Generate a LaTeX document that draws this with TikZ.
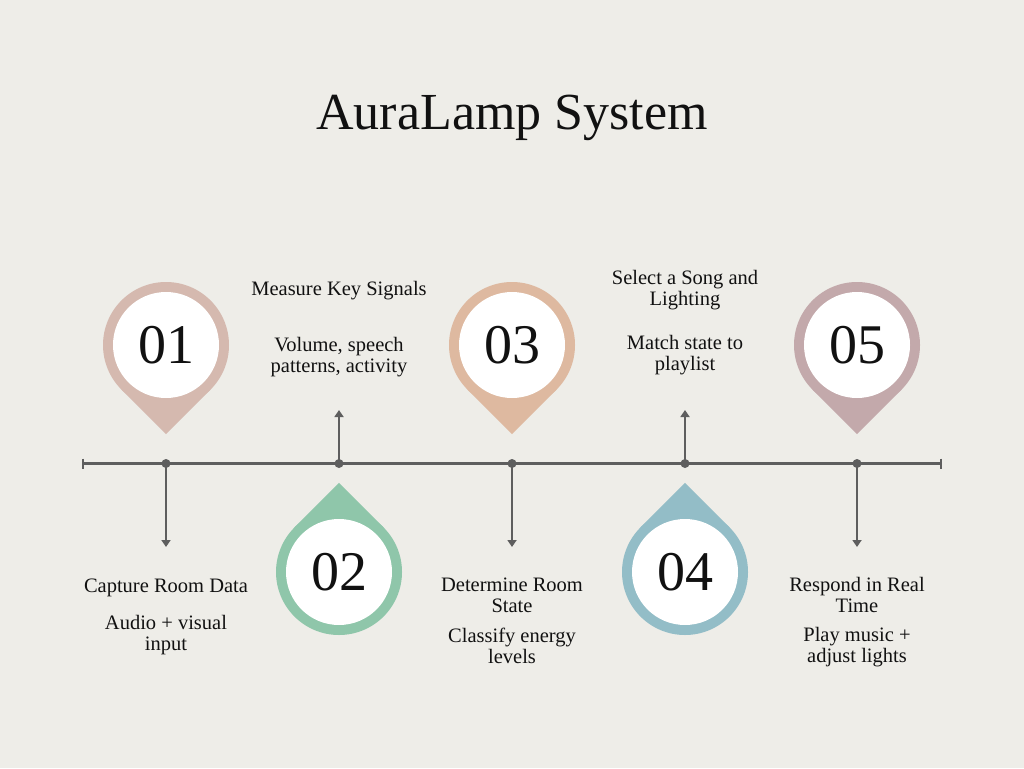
\documentclass[tikz,border=0pt]{standalone}
\usepackage{fontspec}
\setmainfont{Liberation Serif}
\usetikzlibrary{arrows.meta,calc}
\definecolor{bg}{HTML}{EEEDE8}
\definecolor{ink}{HTML}{111111}
\definecolor{linegray}{HTML}{5E5E5E}
\definecolor{pinA}{HTML}{D5B9AF}
\definecolor{pinB}{HTML}{8FC6AA}
\definecolor{pinC}{HTML}{DEB9A0}
\definecolor{pinD}{HTML}{93BDC7}
\definecolor{pinE}{HTML}{C3A9AB}
\newcommand\droppin[6]{%
  \fill[#5] (#2,#3) circle[radius=63];
  \fill[#5] (#2,#3) -- ++(44.55,#4) -- ++(-44.55,#4) -- ++(-44.55,{-(#4)}) -- cycle;
  \node[numcirc] (#1) at (#2,#3) {#6};
}
\begin{document}
\begin{tikzpicture}[x=1pt,y=-1pt,
  numcirc/.style={circle,fill=white,minimum size=106pt,inner sep=0pt,text=ink,font=\fontsize{56}{56}\selectfont},
  lbl/.style={align=flush center,text width=220pt,anchor=base,text=ink,font=\fontsize{20.5}{21}\selectfont,inner sep=0pt},
  tline/.style={draw=linegray,line width=2.4pt},
  conn/.style={draw=linegray,line width=2pt,-{Triangle[length=7pt,width=9pt]}},
  dotc/.style={fill=linegray}]
\fill[bg] (0,0) rectangle (1024,768);
\useasboundingbox (0,0) rectangle (1024,768);
% title
\node[anchor=base,text=ink,font=\fontsize{52}{52}\selectfont,inner sep=0pt] (title) at (512,129) {AuraLamp System};
% timeline
\coordinate (tl) at (83,463.5);
\coordinate (tr) at (941,463.5);
\draw[tline] (tl) -- (tr);
\draw[tline] (83,458.5) -- (83,468.5);
\draw[tline] (941,458.5) -- (941,468.5);
\foreach \n/\x in {1/166,2/339,3/512,4/685,5/857}{
  \coordinate (d\n) at (\x,463.5);
}
\coordinate (e1) at (166,547);
\coordinate (e2) at (339,410);
\coordinate (e3) at (512,547);
\coordinate (e4) at (685,410);
\coordinate (e5) at (857,547);
\foreach \n in {1,...,5}{
  \draw[conn] (d\n) -- (e\n);
  \fill[dotc] (d\n) circle[radius=4.5];
}
% pins
\droppin{p1}{166}{345}{44.55}{pinA}{01}
\droppin{p2}{339}{572}{-44.55}{pinB}{02}
\droppin{p3}{512}{345}{44.55}{pinC}{03}
\droppin{p4}{685}{572}{-44.55}{pinD}{04}
\droppin{p5}{857}{345}{44.55}{pinE}{05}
% labels
\node[lbl] (t1) at (166,592) {Capture Room Data};
\node[lbl] (s1) at (166,629) {Audio + visual\\input};
\node[lbl] (t2) at (339,295) {Measure Key Signals};
\node[lbl] (s2) at (339,351) {Volume, speech\\patterns, activity};
\node[lbl] (t3) at (512,591) {Determine Room\\State};
\node[lbl] (s3) at (512,642) {Classify energy\\levels};
\node[lbl] (t4) at (685,284) {Select a Song and\\Lighting};
\node[lbl] (s4) at (685,349) {Match state to\\playlist};
\node[lbl] (t5) at (857,591) {Respond in Real\\Time};
\node[lbl] (s5) at (857,641) {Play music +\\adjust lights};
\end{tikzpicture}
\end{document}
